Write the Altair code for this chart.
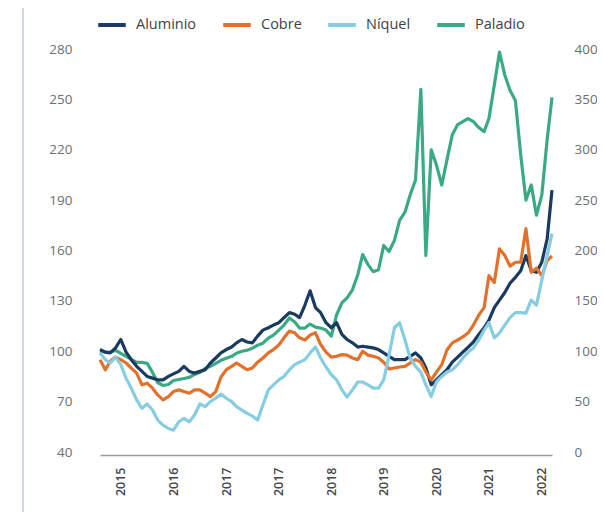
import altair as alt
import pandas as pd

# Monthly observations, Jan 2015 .. Mar 2022 (87 months)
months = [f"{y}-{m:02d}-01" for y in range(2015, 2023) for m in range(1, 13)][:87]

aluminio = [101, 99.5, 99, 102, 107, 99.5, 95, 91, 88, 85,
            84, 83, 83, 85, 86.5, 88, 91, 88, 87, 88,
            89, 93, 96, 99, 101, 102.5, 105, 107, 105.5, 105,
            109, 112.6, 114, 115.6, 117, 120, 123, 122, 120, 127.5,
            136, 126, 123, 117, 114, 117, 110, 107, 105, 102.5,
            103, 102.5, 102, 101, 99, 97, 95, 95, 95, 97,
            99, 96, 90, 80, 83, 86, 89, 93.5, 96.5, 99.5,
            102.5, 105.5, 110, 114, 118.5, 126, 130.5, 135, 140.5, 144,
            148, 157, 148, 147, 153, 167, 196]

cobre = [95, 89, 94, 96.5, 95, 93, 90, 87, 80, 81,
         78, 74, 71, 73, 76, 77, 76, 75, 77, 77,
         75, 73, 76, 84.6, 89, 91, 93, 91, 89, 90,
         93.5, 96, 99, 101, 103.7, 108, 112, 111, 108, 106.7,
         109.6, 111, 104, 99.5, 96.5, 97, 98, 97.7, 96, 95,
         100, 97.7, 97, 96, 93.5, 89.4, 90, 90.6, 91, 93,
         95, 93.5, 87.6, 83, 87.6, 92, 100.7, 105, 106.7, 108.5,
         111, 115.6, 121.5, 126, 145, 141, 161, 157, 150.7, 153,
         153, 173, 147, 149.5, 145, 154, 156.7]

niquel = [99, 95, 93, 96.5, 92, 84, 78, 71, 66, 68.6,
          65, 59, 56, 54, 53, 58, 60, 58, 62, 68.6,
          67, 70, 72, 74.5, 72, 70, 67, 65, 63, 61.4,
          59, 68, 77, 80, 83, 85, 89, 92, 93.5, 95,
          99, 102.5, 96, 90.6, 86, 83, 77, 72.7, 77, 81.7,
          81.7, 80, 78, 78, 83, 97.7, 114, 117, 106.7, 96,
          91, 87.6, 80, 73, 81.7, 85, 87.6, 89, 92, 96,
          99.5, 102, 106.7, 112.6, 117, 108, 111, 115.6, 120, 123,
          123, 122.7, 130.5, 127.5, 142.4, 157, 170]

paladio = [100, 99, 99, 101, 98, 95, 92, 89, 89, 88,
           79, 69, 66, 67, 71, 72, 73, 74, 77, 79,
           83, 85, 88, 91, 93, 95, 98, 100, 101, 103,
           106, 108, 113, 116, 121, 126, 133, 129, 123, 123,
           127, 124, 123, 121, 115, 136, 148, 153, 161, 176,
           196, 186, 179, 181, 205, 199, 210, 230, 238, 255,
           270, 360, 195, 300, 285, 265, 290, 315, 325, 328,
           331, 328, 322, 318, 331, 364, 397, 374, 359, 349,
           295, 250, 265, 235, 255, 310, 352]

series_names = ["Aluminio", "Cobre", "Níquel", "Paladio"]
series_colors = ["#1b3a5f", "#e2712c", "#86cde2", "#3aaa86"]

tick_dates = [(2015, 5), (2016, 3), (2017, 1), (2017, 11), (2018, 9),
              (2019, 7), (2020, 5), (2021, 3), (2022, 1)]
left_ticks = [40, 70, 100, 130, 160, 190, 220, 250, 280]
right_ticks = [0, 50, 100, 150, 200, 250, 300, 350, 400]

n = len(months)
df_left = pd.DataFrame({
    "date": months * 3,
    "value": aluminio + cobre + niquel,
    "metal": ["Aluminio"] * n + ["Cobre"] * n + ["Níquel"] * n,
})
df_right = pd.DataFrame({"date": months, "value": paladio, "metal": ["Paladio"] * n})

FONT = "Open Sans"

color = alt.Color(
    "metal:N",
    scale=alt.Scale(domain=series_names, range=series_colors),
    legend=alt.Legend(
        title=None, orient="none", direction="horizontal",
        legendX=-4, legendY=-40,
        symbolType="stroke", symbolStrokeWidth=4, symbolSize=760,
        labelFontSize=14.5, labelColor="#3f4147", labelFont=FONT,
        labelOffset=8, columnPadding=18,
    ),
)

x = alt.X(
    "date:T",
    scale=alt.Scale(type="utc", nice=False),
    axis=alt.Axis(
        title=None,
        values=[alt.DateTime(year=y, month=m, date=1, utc=True) for y, m in tick_dates],
        format="%Y", labelAngle=270, labelAlign="right", labelBaseline="middle",
        labelPadding=12, labelFontSize=12.5, labelColor="#45464b", labelFont=FONT,
        labelFontWeight=600, labelOverlap=False, labelFlush=False,
        ticks=False, grid=False, domain=True, domainColor="#9a9a9a", domainWidth=1.3,
        offset=3,
    ),
)

left = alt.Chart(df_left).mark_line(strokeWidth=3.2, strokeJoin="round").encode(
    x=x,
    y=alt.Y("value:Q", scale=alt.Scale(domain=[40, 280], nice=False, zero=False),
            axis=alt.Axis(title=None, orient="left", values=left_ticks, grid=False,
                          ticks=False, domain=False, labelPadding=28,
                          labelFontSize=13.5, labelColor="#6d6e73", labelFont=FONT)),
    color=color,
)

right = alt.Chart(df_right).mark_line(strokeWidth=3.2, strokeJoin="round").encode(
    x=x,
    y=alt.Y("value:Q", scale=alt.Scale(domain=[0, 400], nice=False),
            axis=alt.Axis(title=None, orient="right", values=right_ticks, grid=False,
                          ticks=False, domain=False, labelPadding=22,
                          labelFontSize=13.5, labelColor="#6d6e73", labelFont=FONT)),
    color=color,
)

border = alt.Chart(pd.DataFrame({"k": [0]})).mark_rule(color="#cdd6e2", strokeWidth=2).encode(
    x=alt.value(-77), y=alt.value(-49), y2=alt.value(463)
)

chart = alt.layer(right, left, border).resolve_scale(y="independent").properties(
    width=452, height=403,
    padding={"left": 92, "top": 41, "right": 45, "bottom": 60},
    autosize="none",
).configure_view(stroke=None)

chart.save("out.html", embed_options={"renderer": "svg", "actions": False})
